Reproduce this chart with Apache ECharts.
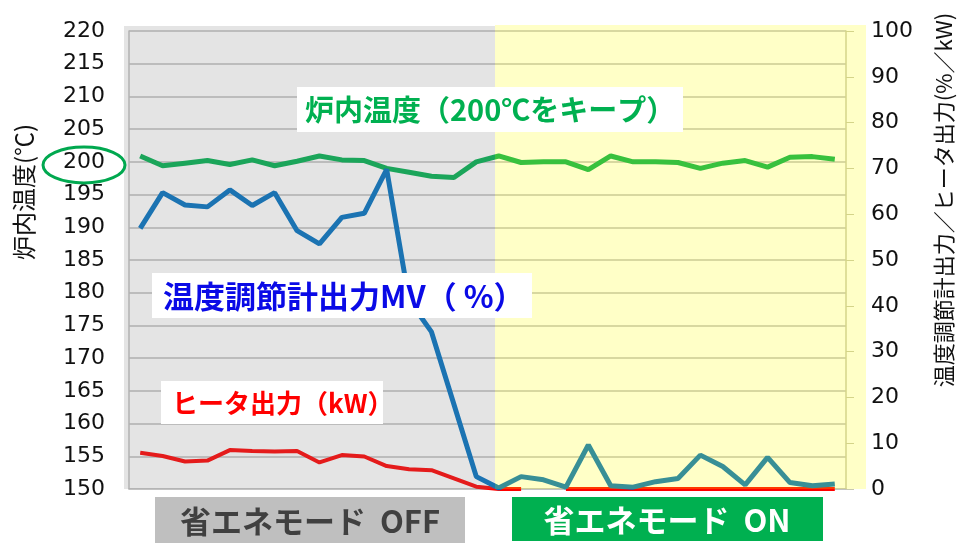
<!DOCTYPE html>
<html><head><meta charset="utf-8">
<script src="https://cdn.jsdelivr.net/npm/echarts@6/dist/echarts.min.js"></script>
<style>html,body{margin:0;padding:0;background:#fff}#c{width:958px;height:543px}</style>
</head><body><div id="c"></div>
<script>
// ---- data ----
const categories = ["1","2","3","4","5","6","7","8","9","10","11","12","13","14","15","16",
                    "17","18","19","20","21","22","23","24","25","26","27","28","29","30","31","32"];
const furnaceTemp = [200.9,199.4,199.8,200.2,199.6,200.3,199.4,200.1,200.9,200.3,200.2,199.0,198.4,197.8,197.6,200.0,
                     200.9,199.9,200.0,200.0,198.8,200.9,200.0,200.0,199.9,199.0,199.8,200.2,199.2,200.7,200.8,200.4];
const mvOutput = [56.9,64.7,62.0,61.6,65.3,61.9,64.7,56.4,53.5,59.3,60.2,69.8,41.2,34.3,18.5,2.7,
                  0.2,2.7,2.0,0.4,9.6,0.7,0.4,1.6,2.3,7.4,4.9,0.9,6.9,1.4,0.7,1.1];
const heaterKW = [7.9,7.2,6.0,6.2,8.5,8.3,8.2,8.3,5.8,7.4,7.1,5.0,4.3,4.1,2.3,0.5,
                  0,0,null,0,0,0,0,0,0,0,0,0,0,0,0,0];
const leftTicks = {min:150, max:220, interval:5};
const rightTicks = {min:0, max:100, interval:10};
const labelTemp = "炉内温度（200℃をキープ）";
const labelMV = "温度調節計出力MV（ %）";
const labelHeater = "ヒータ出力（kW）";
const labelOff = "省エネモード  OFF";
const labelOn = "省エネモード  ON";
const leftTitle = "炉内温度(℃)";
const rightTitle = "温度調節計出力／ヒータ出力(%／kW)";

const chart = echarts.init(document.getElementById('c'), null, {renderer:'canvas'});
const CJK = '"Noto Sans CJK JP", sans-serif';
const NUM = '"DejaVu Sans", Verdana, sans-serif';
chart.setOption({
  animation:false,
  backgroundColor:'#fff',
  grid:{left:129, right:112, top:31, bottom:54},
  xAxis:{type:'category', data:categories, boundaryGap:true,
    axisLine:{show:true, lineStyle:{color:'#bfbfbf', width:1.5}},
    axisTick:{show:false}, axisLabel:{show:false}, splitLine:{show:false}},
  yAxis:[
    {type:'value', position:'left', min:leftTicks.min, max:leftTicks.max, interval:leftTicks.interval,
     axisLine:{show:true, lineStyle:{color:'#bfbfbf', width:1.5}}, axisTick:{show:false},
     axisLabel:{fontSize:22, color:'#111', fontFamily:NUM, margin:24},
     splitLine:{show:true, lineStyle:{color:'#bdbdbd', width:1.5}}},
    {type:'value', position:'right', min:rightTicks.min, max:rightTicks.max, interval:rightTicks.interval,
     axisLine:{show:true, lineStyle:{color:'#c8c8b0', width:1.5}},
     axisTick:{show:true, length:8, lineStyle:{color:'#c8c8b0'}},
     axisLabel:{fontSize:22, color:'#111', fontFamily:NUM, margin:25},
     splitLine:{show:false}}
  ],
  series:[
    {name:'heater', type:'line', yAxisIndex:1, data:heaterKW, showSymbol:false, connectNulls:false,
     lineStyle:{color:'#ff0000', width:4}, z:3},
    {name:'temp', type:'line', yAxisIndex:0, data:furnaceTemp, showSymbol:false,
     lineStyle:{color:'#00b050', width:5}, z:4},
    {name:'mv', type:'line', yAxisIndex:1, data:mvOutput, showSymbol:false,
     lineStyle:{color:'#0070c0', width:5}, z:5}
  ],
  graphic:[
    {type:'rect', z:100, shape:{x:124, y:26, width:371, height:463}, style:{fill:'rgba(128,128,128,0.21)'}},
    {type:'rect', z:100, shape:{x:495, y:25, width:371, height:464}, style:{fill:'rgba(255,255,0,0.22)'}},
    {type:'rect', z:110, shape:{x:297, y:87, width:386, height:45}, style:{fill:'#fff'}},
    {type:'text', z:120, x:305, y:110, style:{text:labelTemp, font:'bold 29px '+CJK, fill:'#00b050', textAlign:'left', textVerticalAlign:'middle'}},
    {type:'rect', z:110, shape:{x:152, y:273, width:380, height:45}, style:{fill:'#fff'}},
    {type:'text', z:120, x:163, y:296, style:{text:labelMV, font:'bold 31px '+CJK, fill:'#0a0ae6', textAlign:'left', textVerticalAlign:'middle'}},
    {type:'rect', z:110, shape:{x:161, y:381, width:222, height:43}, style:{fill:'#fff'}},
    {type:'text', z:120, x:172, y:403, style:{text:labelHeater, font:'bold 26px '+CJK, fill:'#ff0000', textAlign:'left', textVerticalAlign:'middle'}},
    {type:'rect', z:110, shape:{x:155, y:497, width:310, height:46}, style:{fill:'#bfbfbf'}},
    {type:'text', z:120, x:310, y:521, style:{text:labelOff, font:'bold 31px '+CJK, fill:'#404040', textAlign:'center', textVerticalAlign:'middle'}},
    {type:'rect', z:110, shape:{x:512, y:497, width:311, height:44}, style:{fill:'#00b050'}},
    {type:'text', z:120, x:667, y:520, style:{text:labelOn, font:'bold 31px '+CJK, fill:'#ffffff', textAlign:'center', textVerticalAlign:'middle'}},
    {type:'ellipse', z:120, shape:{cx:84, cy:165, rx:41, ry:18}, style:{fill:'none', stroke:'#00a84f', lineWidth:3}},
    {type:'text', z:120, x:24, y:192, rotation:Math.PI/2, style:{text:leftTitle, font:'24px '+CJK, fill:'#111', textAlign:'center', textVerticalAlign:'middle'}},
    {type:'text', z:120, x:944, y:200, rotation:Math.PI/2, style:{text:rightTitle, font:'22px '+CJK, fill:'#111', textAlign:'center', textVerticalAlign:'middle'}}
  ]
});
</script></body></html>
